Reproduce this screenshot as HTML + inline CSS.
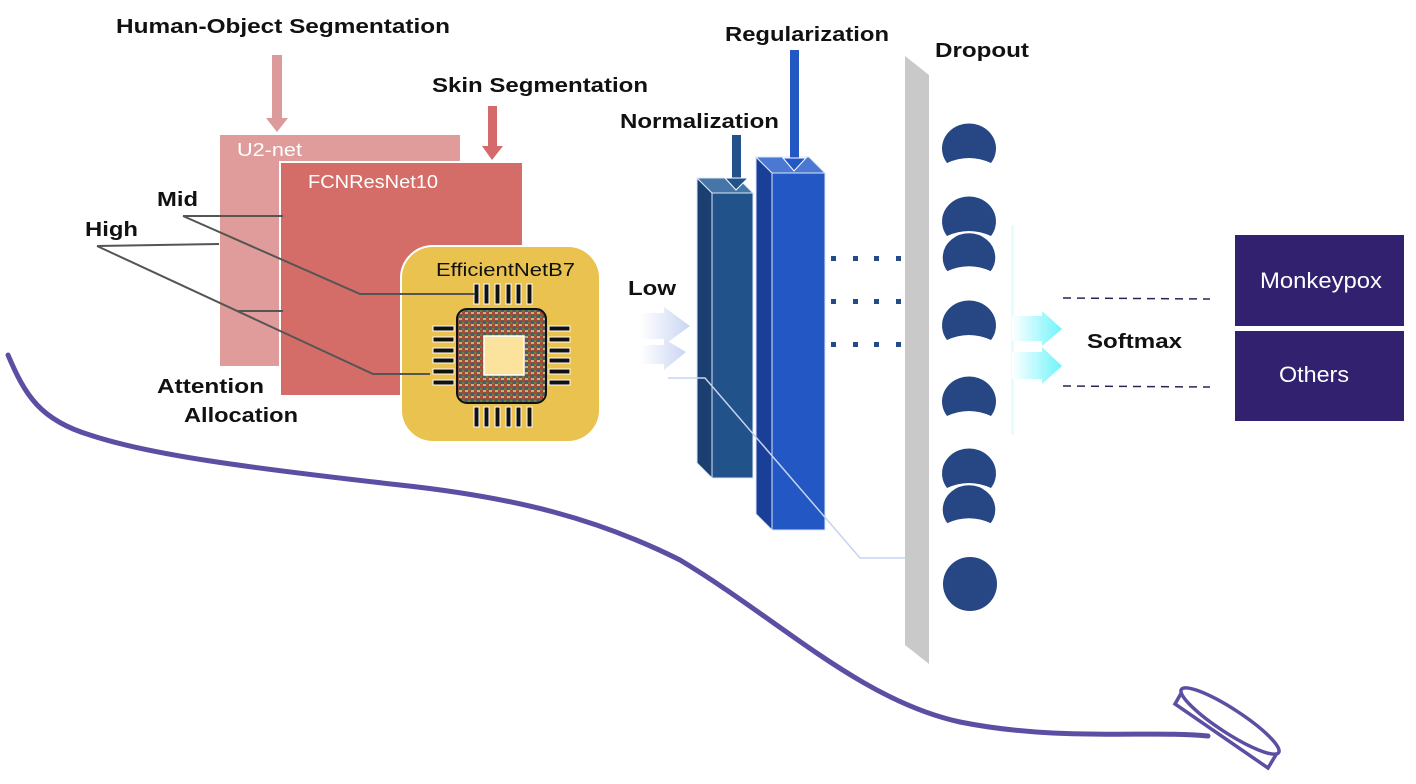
<!DOCTYPE html>
<html><head><meta charset="utf-8"><style>
body{margin:0;background:#fff;}
svg{display:block;font-family:"Liberation Sans",sans-serif;}
.b{font-weight:bold;font-size:20px;fill:#111;}
</style></head><body>
<svg width="1416" height="784" viewBox="0 0 1416 784" xmlns="http://www.w3.org/2000/svg">
<defs>
<linearGradient id="lowg" x1="0" x2="1"><stop offset="0" stop-color="#fff"/><stop offset="1" stop-color="#c9d6f2"/></linearGradient>
<linearGradient id="cy" x1="0" x2="1"><stop offset="0" stop-color="#fff"/><stop offset="1" stop-color="#6ef4fb"/></linearGradient>
<pattern id="mos" width="6" height="6" patternUnits="userSpaceOnUse">
<rect width="6" height="6" fill="#6b6150"/><rect width="3" height="3" fill="#a84a3a"/><rect x="3" y="3" width="3" height="3" fill="#3d5f7a"/><rect x="3" width="3" height="2" fill="#c9b27a"/><rect y="4" width="2" height="2" fill="#5d8a3c"/>
</pattern>
</defs>

<!-- titles -->
<text x="116" y="33" class="b" textLength="334" lengthAdjust="spacingAndGlyphs">Human-Object Segmentation</text>
<rect x="272" y="55" width="10" height="65" fill="#dc9a9a"/>
<polygon points="266,118 288,118 277,132" fill="#dc9a9a"/>
<text x="432" y="92" class="b" textLength="216" lengthAdjust="spacingAndGlyphs">Skin Segmentation</text>
<rect x="488" y="106" width="9" height="42" fill="#d46a6a"/>
<polygon points="482,146 503,146 492,160" fill="#d46a6a"/>

<!-- U2-net -->
<rect x="220" y="135" width="240" height="231" fill="#df9c9a"/>
<text x="237" y="156" fill="#fff" font-size="18" textLength="65" lengthAdjust="spacingAndGlyphs">U2-net</text>
<!-- FCN -->
<rect x="280" y="162" width="243" height="234" fill="#d46c67" stroke="#fff" stroke-width="2"/>
<text x="308" y="188" fill="#fff" font-size="18" textLength="130" lengthAdjust="spacingAndGlyphs">FCNResNet10</text>

<!-- EfficientNet -->
<rect x="401" y="246" width="199" height="196" rx="32" fill="#e9c24f" stroke="#fff" stroke-width="2"/>
<text x="436" y="276" fill="#111" font-size="18" textLength="139" lengthAdjust="spacingAndGlyphs">EfficientNetB7</text>
<rect x="457" y="309" width="89" height="94" rx="10" fill="url(#mos)" stroke="#111" stroke-width="2"/>
<rect x="484" y="336" width="40" height="39" fill="#fbe39d" stroke="#fff" stroke-width="1.5"/>
<g fill="#111" stroke="#fff" stroke-width="1">
<rect x="474" y="284" width="5" height="20"/><rect x="484" y="284" width="5" height="20"/><rect x="495" y="284" width="5" height="20"/><rect x="506" y="284" width="5" height="20"/><rect x="516" y="284" width="5" height="20"/><rect x="527" y="284" width="5" height="20"/>
<rect x="474" y="407" width="5" height="20"/><rect x="484" y="407" width="5" height="20"/><rect x="495" y="407" width="5" height="20"/><rect x="506" y="407" width="5" height="20"/><rect x="516" y="407" width="5" height="20"/><rect x="527" y="407" width="5" height="20"/>
<rect x="433" y="326" width="21" height="5"/><rect x="433" y="337" width="21" height="5"/><rect x="433" y="348" width="21" height="5"/><rect x="433" y="358" width="21" height="5"/><rect x="433" y="369" width="21" height="5"/><rect x="433" y="380" width="21" height="5"/>
<rect x="549" y="326" width="21" height="5"/><rect x="549" y="337" width="21" height="5"/><rect x="549" y="348" width="21" height="5"/><rect x="549" y="358" width="21" height="5"/><rect x="549" y="369" width="21" height="5"/><rect x="549" y="380" width="21" height="5"/>
</g>

<!-- lines (on top) -->
<g stroke="#555" stroke-width="2" fill="none">
<polyline points="183,216 283,216"/>
<polyline points="183,216 360,294 475,294"/>
<polyline points="97,246 219,244"/>
<polyline points="97,246 373,374 430,374"/>
<polyline points="238,311 283,311"/>
</g>
<text x="157" y="206" class="b" textLength="41" lengthAdjust="spacingAndGlyphs">Mid</text>
<text x="85" y="236" class="b" textLength="53" lengthAdjust="spacingAndGlyphs">High</text>
<text x="157" y="393" class="b" textLength="107" lengthAdjust="spacingAndGlyphs">Attention</text>
<text x="184" y="422" class="b" textLength="114" lengthAdjust="spacingAndGlyphs">Allocation</text>

<!-- Low -->
<text x="628" y="295" class="b" textLength="48" lengthAdjust="spacingAndGlyphs">Low</text>
<polygon points="640,313 664,313 664,307 690,326 664,345 664,339 640,339" fill="url(#lowg)"/>
<polygon points="640,345 664,345 664,339 686,352 664,370 664,364 640,364" fill="url(#lowg)"/>

<!-- bars -->
<polygon points="697,178 712,193 712,478 697,463" fill="#1b3f70" stroke="#dfe6f5" stroke-width="1"/>
<polygon points="697,178 738,178 753,193 712,193" fill="#4676a8" stroke="#dfe6f5" stroke-width="1"/>
<rect x="712" y="193" width="41" height="285" fill="#22528a" stroke="#dfe6f5" stroke-width="1"/>
<polygon points="756,157 772,173 772,530 756,514" fill="#1a3f99" stroke="#dfe6f5" stroke-width="1"/>
<polygon points="756,157 809,157 825,173 772,173" fill="#4a78d2" stroke="#dfe6f5" stroke-width="1"/>
<rect x="772" y="173" width="53" height="357" fill="#2257c4" stroke="#dfe6f5" stroke-width="1"/>
<polyline points="668,378 705,378 860,558 905,558" fill="none" stroke="#c6d3f0" stroke-width="1.5"/>
<text x="620" y="128" class="b" textLength="159" lengthAdjust="spacingAndGlyphs">Normalization</text>
<rect x="732" y="135" width="9" height="45" fill="#22528a"/>
<polygon points="725,178 748,178 736,190" fill="#22528a" stroke="#fff" stroke-width="1"/>
<text x="725" y="41" class="b" textLength="164" lengthAdjust="spacingAndGlyphs">Regularization</text>
<rect x="790" y="50" width="9" height="110" fill="#2257c4"/>
<polygon points="783,158 806,158 794,171" fill="#2257c4" stroke="#fff" stroke-width="1"/>

<!-- dots -->
<g fill="#244a8a">
<rect x="831" y="256" width="5" height="5"/><rect x="853" y="256" width="5" height="5"/><rect x="874" y="256" width="5" height="5"/><rect x="896" y="256" width="5" height="5"/>
<rect x="831" y="299" width="5" height="5"/><rect x="853" y="299" width="5" height="5"/><rect x="874" y="299" width="5" height="5"/><rect x="896" y="299" width="5" height="5"/>
<rect x="831" y="342" width="5" height="5"/><rect x="853" y="342" width="5" height="5"/><rect x="874" y="342" width="5" height="5"/><rect x="896" y="342" width="5" height="5"/>
</g>

<!-- dropout -->
<polygon points="905,56 929,75 929,664 905,645" fill="#c9c9c9"/>
<text x="935" y="57" class="b" textLength="94" lengthAdjust="spacingAndGlyphs">Dropout</text>
<g fill="#264684">
<path d="M947,163 A27,25 0 1 1 991,163 Q969,153 947,163Z"/>
<path d="M947,236 A27,25 0 1 1 991,236 Q969,226 947,236Z"/>
<path d="M947,272 A27,25 0 1 1 991,272 Q969,262 947,272Z" stroke="#fff" stroke-width="1.5"/>
<path d="M947,340 A27,25 0 1 1 991,340 Q969,330 947,340Z"/>
<path d="M947,416 A27,25 0 1 1 991,416 Q969,406 947,416Z"/>
<path d="M947,488 A27,25 0 1 1 991,488 Q969,478 947,488Z"/>
<path d="M947,524 A27,25 0 1 1 991,524 Q969,514 947,524Z" stroke="#fff" stroke-width="1.5"/>
<ellipse cx="970" cy="584" rx="27" ry="27"/>
</g>

<!-- softmax -->
<rect x="1011" y="225" width="3" height="210" fill="#e6fdfe"/>
<polygon points="1012,316 1042,316 1042,311 1062,329 1042,346 1042,341 1012,341" fill="url(#cy)"/>
<polygon points="1012,352 1042,352 1042,347 1062,366 1042,384 1042,379 1012,379" fill="url(#cy)"/>
<line x1="1063" y1="298" x2="1210" y2="299" stroke="#2a2555" stroke-width="1.5" stroke-dasharray="8,6"/>
<line x1="1063" y1="386" x2="1210" y2="387" stroke="#2a2555" stroke-width="1.5" stroke-dasharray="8,6"/>
<text x="1087" y="348" class="b" textLength="95" lengthAdjust="spacingAndGlyphs">Softmax</text>
<rect x="1235" y="235" width="169" height="91" fill="#32216e"/>
<rect x="1235" y="331" width="169" height="90" fill="#32216e"/>
<text x="1260" y="288" fill="#fff" font-size="22" textLength="122" lengthAdjust="spacingAndGlyphs">Monkeypox</text>
<text x="1279" y="382" fill="#fff" font-size="22" textLength="70" lengthAdjust="spacingAndGlyphs">Others</text>

<!-- purple curve -->
<path d="M8,355 C25,395 40,420 90,435 C150,455 250,468 400,485 C520,498 600,520 680,560 C780,620 860,700 960,722 C1060,742 1150,730 1208,736" fill="none" stroke="#5c4ea3" stroke-width="5" stroke-linecap="round"/>
<g fill="#fff" stroke="#5c4ea3" stroke-width="3.5">
<path d="M1183,690 L1175,704 L1268,768 L1277,753 Z"/>
<ellipse cx="1230" cy="721" rx="58" ry="12" transform="rotate(33 1230 721)"/>
</g>
</svg>
</body></html>
